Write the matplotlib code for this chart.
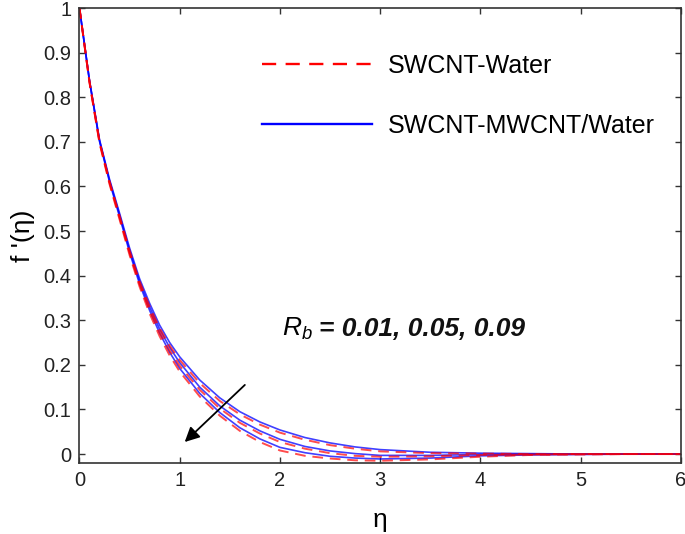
import numpy as np
import matplotlib
matplotlib.use('Agg')
import matplotlib.pyplot as plt
from matplotlib.lines import Line2D

plt.rcParams['font.family'] = ['Liberation Sans', 'DejaVu Sans']
plt.rcParams['mathtext.fontset'] = 'custom'
plt.rcParams['mathtext.it'] = 'Liberation Sans:italic'
plt.rcParams['mathtext.rm'] = 'Liberation Sans'

# eta grid
eta = [0, 0.1, 0.2, 0.3, 0.4, 0.5, 0.6, 0.7, 0.8, 0.9, 1.0, 1.2, 1.4, 1.6, 1.8,
       2.0, 2.25, 2.5, 2.75, 3.0, 3.5, 4.0, 4.5, 5.0, 5.5, 6.0]

# SWCNT-MWCNT/Water (blue, solid), Rb = 0.01, 0.05, 0.09
hyb_001 = [1.000, 0.838, 0.705, 0.616, 0.540, 0.462, 0.393, 0.338, 0.289, 0.250, 0.218, 0.166, 0.126,
           0.095, 0.072, 0.054, 0.037, 0.025, 0.016, 0.010, 0.004, 0.002, 0.001, 0.000, 0.000, 0.000]
hyb_005 = [1.000, 0.837, 0.703, 0.613, 0.536, 0.457, 0.387, 0.330, 0.280, 0.239, 0.205, 0.150, 0.108,
           0.076, 0.052, 0.033, 0.017, 0.007, 0.001, -0.003, -0.003, -0.001, 0.000, 0.000, 0.000, 0.000]
hyb_009 = [1.000, 0.836, 0.701, 0.610, 0.532, 0.452, 0.381, 0.322, 0.271, 0.228, 0.192, 0.136, 0.093,
           0.059, 0.034, 0.015, 0.003, -0.005, -0.009, -0.011, -0.009, -0.004, -0.002, -0.001, 0.000, 0.000]

# SWCNT-Water (red, dashed), Rb = 0.01, 0.05, 0.09
sw_001 = [1.000, 0.835, 0.701, 0.611, 0.534, 0.456, 0.387, 0.331, 0.282, 0.243, 0.211, 0.159, 0.119,
          0.089, 0.066, 0.048, 0.032, 0.020, 0.012, 0.006, 0.002, 0.001, 0.000, 0.000, 0.000, 0.000]
sw_005 = [1.000, 0.834, 0.699, 0.608, 0.530, 0.451, 0.381, 0.323, 0.273, 0.232, 0.198, 0.144, 0.102,
          0.070, 0.046, 0.027, 0.012, 0.002, -0.004, -0.006, -0.005, -0.002, -0.001, 0.000, 0.000, 0.000]
sw_009 = [1.000, 0.833, 0.697, 0.605, 0.526, 0.446, 0.375, 0.315, 0.264, 0.221, 0.185, 0.129, 0.086,
          0.052, 0.027, 0.008, -0.004, -0.010, -0.014, -0.015, -0.012, -0.006, -0.002, -0.001, 0.000, 0.000]

xticks = [0, 1, 2, 3, 4, 5, 6]
yticks = [0, 0.1, 0.2, 0.3, 0.4, 0.5, 0.6, 0.7, 0.8, 0.9, 1]
ytick_labels = ['0', '0.1', '0.2', '0.3', '0.4', '0.5', '0.6', '0.7', '0.8', '0.9', '1']

fig = plt.figure(figsize=(6.85, 5.34), dpi=100)
ax = fig.add_axes([0.116, 0.133, 0.878, 0.852])

for y in [hyb_001, hyb_005, hyb_009]:
    ax.plot(eta, y, color='#0000ff', lw=1.2, alpha=0.75)
for y in [sw_001, sw_005, sw_009]:
    ax.plot(eta, y, color='#ff0000', lw=1.4, ls=(0, (5.5, 3.5)), alpha=0.7)

ax.set_xlim(0, 6)
ax.set_ylim(-0.02, 1)
ax.set_xticks(xticks)
ax.set_yticks(yticks)
ax.set_yticklabels(ytick_labels)
ax.tick_params(direction='in', length=4, width=1, top=True, right=True,
               labelsize=14.5, labelcolor='#222222', color='#333333', pad=6)
for s in ax.spines.values():
    s.set_color('#333333')
    s.set_linewidth(1.2)

ax.set_xlabel('η', fontsize=19, labelpad=13)
ax.set_ylabel("f '(η)", fontsize=19, labelpad=6)

handles = [Line2D([], [], color='#ff0000', lw=1.7, ls=(0, (6, 4))),
           Line2D([], [], color='#0000ff', lw=1.7)]
ax.legend(handles, ['SWCNT-Water', 'SWCNT-MWCNT/Water'], loc='upper left',
          bbox_to_anchor=(0.303, 0.9), frameon=False, fontsize=18,
          handlelength=4.4, handletextpad=0.65, labelspacing=1.45,
          borderpad=0, borderaxespad=0)

ax.text(2.02, 0.281, r'$R_b$', fontsize=19, ha='left', va='center')
ax.text(2.39, 0.281, '= 0.01, 0.05, 0.09', fontsize=19, ha='left', va='center',
        fontstyle='italic', fontweight='bold', color='#111111')

ax.annotate('', xy=(1.05, 0.027), xytext=(1.65, 0.155),
            arrowprops=dict(arrowstyle='-|>', color='black', lw=1.3,
                            mutation_scale=22, shrinkA=0, shrinkB=0))

fig.savefig('out.png', dpi=100)
